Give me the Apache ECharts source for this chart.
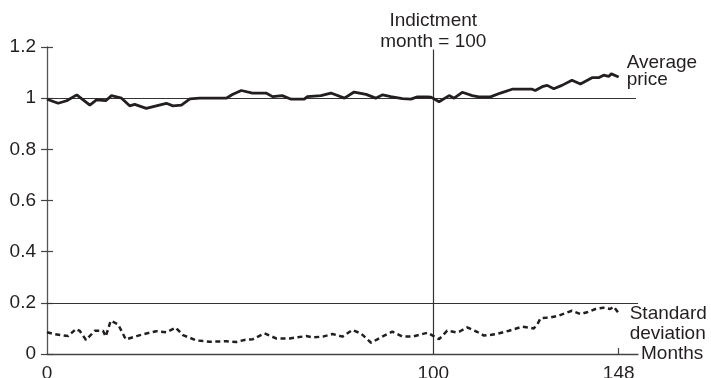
<!DOCTYPE html>
<html><head><meta charset="utf-8">
<script src="https://cdn.jsdelivr.net/npm/echarts@6/dist/echarts.min.js"></script>
<style>html,body{margin:0;padding:0;background:#fff}#c{width:711px;height:378px}</style>
</head><body><div id="c"></div>
<script>
// Average price: month, value
const priceMonths = [0, 2.9, 5.1, 7.7, 11.1, 12.8, 15.2, 16.7, 19.3, 21.4, 22.7, 25.7, 28.3, 30.9, 32.6, 34.8, 37.0, 39.5, 46.4, 48.0, 50.3, 53.2, 56.7, 58.4, 60.9, 63.2, 66.6, 67.4, 70.9, 73.5, 77.0, 79.5, 82.6, 85.1, 86.9, 89.0, 92.0, 94.2, 95.9, 98.4, 99.4, 101.5, 104.1, 105.4, 107.5, 110.1, 111.8, 114.8, 117.4, 120.4, 125.6, 126.4, 128.2, 129.5, 131.2, 133.3, 135.9, 138.1, 141.1, 142.8, 144.1, 145.4, 146.1, 148];
const priceValues = [0.996, 0.98, 0.99, 1.013, 0.973, 0.993, 0.99, 1.01, 1.0, 0.97, 0.976, 0.96, 0.97, 0.98, 0.97, 0.973, 0.997, 1.0, 1.0, 1.014, 1.03, 1.02, 1.02, 1.006, 1.01, 0.996, 0.996, 1.006, 1.01, 1.02, 1.0, 1.024, 1.015, 1.0, 1.013, 1.006, 0.998, 0.996, 1.005, 1.005, 1.004, 0.986, 1.01, 1.0, 1.023, 1.01, 1.005, 1.005, 1.02, 1.035, 1.035, 1.03, 1.045, 1.05, 1.037, 1.05, 1.07, 1.055, 1.08, 1.08, 1.09, 1.085, 1.095, 1.083];
// Standard deviation: month, value
const sdMonths = [0, 2.1, 5.5, 7.5, 8.5, 10.1, 12.4, 14.5, 15.2, 16.5, 18.4, 20.4, 23.2, 25.7, 28.3, 30.9, 33.3, 35.2, 38.7, 42.1, 46.4, 49.0, 51.1, 53.3, 56.3, 59.3, 62.8, 67.1, 68.8, 71.4, 73.9, 76.5, 79.1, 81.3, 83.9, 86.4, 89.4, 92.0, 94.6, 98.5, 101.5, 103.6, 105.8, 106.7, 108.8, 111.3, 113.1, 116.1, 119.6, 123.0, 126.0, 126.9, 127.8, 130.3, 132.5, 134.2, 135.9, 138.1, 139.8, 142.0, 144.1, 145.8, 146.7, 148];
const sdValues = [0.085, 0.077, 0.07, 0.098, 0.09, 0.055, 0.091, 0.091, 0.068, 0.13, 0.116, 0.057, 0.07, 0.08, 0.089, 0.085, 0.103, 0.074, 0.053, 0.048, 0.05, 0.047, 0.055, 0.058, 0.081, 0.061, 0.061, 0.07, 0.065, 0.068, 0.078, 0.068, 0.094, 0.08, 0.044, 0.065, 0.087, 0.068, 0.068, 0.083, 0.058, 0.091, 0.085, 0.087, 0.104, 0.087, 0.072, 0.077, 0.091, 0.107, 0.1, 0.115, 0.14, 0.143, 0.15, 0.16, 0.169, 0.156, 0.163, 0.176, 0.181, 0.176, 0.185, 0.159];
const xTickLabels = [0, 100, 148];
const yTickLabels = [0, 0.2, 0.4, 0.6, 0.8, 1, 1.2];
const indictmentMonth = 100;
const referenceLevels = [1, 0.2];
const referenceEnds = [152.5, 153];

const FONT = "'Liberation Sans', Arial, Helvetica, sans-serif";
const INK = '#231f20';
const zip = (a, b) => a.map((m, i) => [m, b[i]]);

const chart = echarts.init(document.getElementById('c'), null, {renderer: 'canvas'});
chart.setOption({
  animation: false,
  backgroundColor: '#fff',
  textStyle: {fontFamily: FONT, color: INK},
  grid: {left: 47, right: 73, top: 47, bottom: 24, containLabel: false, outerBoundsMode: 'none'},
  xAxis: {
    type: 'value', min: 0, max: 153,
    name: 'Months', nameLocation: 'end', nameGap: 3,
    nameTextStyle: {fontSize: 19, color: INK, fontFamily: FONT, verticalAlign: 'middle'},
    axisLine: {show: true, lineStyle: {color: '#444', width: 1.3}},
    axisTick: {show: true, inside: true, length: 6, customValues: [xTickLabels[2]], lineStyle: {color: '#444', width: 1.2}},
    axisLabel: {customValues: xTickLabels, fontSize: 19, color: INK, fontFamily: FONT, margin: 10},
    splitLine: {show: false}
  },
  yAxis: [{
    type: 'value', min: 0, max: 1.2, interval: 0.2,
    axisLine: {show: true, lineStyle: {color: '#555', width: 1.3}},
    axisTick: {show: true, length: 6, lineStyle: {color: '#444', width: 1.2}},
    axisLabel: {fontSize: 19, color: INK, fontFamily: FONT, margin: 11,
      formatter: v => String(yTickLabels.find(t => Math.abs(t - v) < 1e-6))},
    splitLine: {show: false}
  }, {
    type: 'value', min: 0, max: 1.2, interval: 0.2, position: 'left',
    axisLine: {show: false},
    axisTick: {show: true, inside: true, length: 6, lineStyle: {color: '#444', width: 1.2}},
    axisLabel: {show: false},
    splitLine: {show: false}
  }],
  series: [{
    type: 'line', data: zip(priceMonths, priceValues), symbol: 'none',
    lineStyle: {color: INK, width: 2.8}, z: 5,
    endLabel: {show: true, formatter: 'Average\nprice', fontSize: 19, lineHeight: 17, color: INK, fontFamily: FONT, offset: [2, -6], distance: 6},
    markLine: {
      silent: true, symbol: 'none', animation: false,
      lineStyle: {color: '#333', width: 1.2, type: 'solid'},
      label: {show: false},
      data: [
        [{coord: [0, referenceLevels[0]]}, {coord: [referenceEnds[0], referenceLevels[0]]}],
        [{coord: [0, referenceLevels[1]]}, {coord: [referenceEnds[1], referenceLevels[1]]}],
        [{coord: [indictmentMonth, 0]}, {coord: [indictmentMonth, 1.19],
          label: {show: true, position: 'end', formatter: 'Indictment\nmonth = ' + indictmentMonth, fontSize: 19, lineHeight: 21, color: INK, fontFamily: FONT, distance: -3}}]
      ]
    }
  }, {
    type: 'line', data: zip(sdMonths, sdValues), symbol: 'none',
    lineStyle: {color: INK, width: 2.5, type: [5, 3.5]}, z: 5,
    endLabel: {show: true, formatter: 'Standard\ndeviation', fontSize: 19, lineHeight: 20, color: INK, fontFamily: FONT, offset: [5, 10], distance: 6}
  }]
});
</script></body></html>
